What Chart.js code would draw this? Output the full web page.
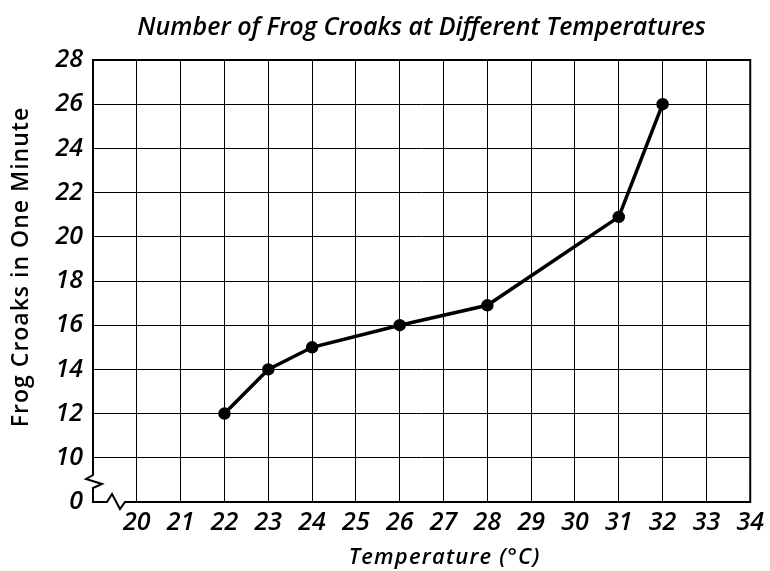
<!DOCTYPE html>
<html>
<head>
<meta charset="utf-8">
<script src="https://cdn.jsdelivr.net/npm/chart.js@4.4.1/dist/chart.umd.min.js"></script>
<style>
  body { margin: 0; background: #fff; }
</style>
</head>
<body>
<canvas id="myChart" width="770" height="571"></canvas>
<script>
// data
const temperatures = [22, 23, 24, 26, 28, 31, 32];
const croaks = [12, 14, 15, 16, 16.9, 20.9, 26];

// axes: the bottom of the y scale is a broken axis shown as "0"
const xMin = 19, xMax = 34;
const yMin = 8, yMax = 28;
const yBreakLabel = '0';

const xTitle = 'Temperature (°C)';
const yTitle = 'Frog Croaks in One Minute';

const FONT = '"Open Sans", "DejaVu Sans", sans-serif';

// outer frame with zigzag breaks at the bottom left corner, plus axis titles
const frame = {
  id: 'frame',
  beforeDatasetsDraw(chart) {
    const { ctx, chartArea: a } = chart;
    const L = a.left, R = a.right, T = a.top, B = a.bottom;
    ctx.save();
    ctx.strokeStyle = '#000';
    ctx.lineWidth = 2;
    ctx.beginPath();
    ctx.moveTo(L, T);
    ctx.lineTo(L, B - 27);
    ctx.lineTo(L - 7, B - 23);
    ctx.lineTo(L + 9, B - 18);
    ctx.lineTo(L, B - 14);
    ctx.lineTo(L, B);
    ctx.lineTo(L + 14, B);
    ctx.lineTo(L + 19, B - 8);
    ctx.lineTo(L + 27, B + 7);
    ctx.lineTo(L + 32, B);
    ctx.lineTo(R, B);
    ctx.lineTo(R, T);
    ctx.closePath();
    ctx.stroke();
    ctx.restore();
  },
  afterDraw(chart) {
    const { ctx, chartArea: a } = chart;
    ctx.save();
    ctx.fillStyle = '#000';
    ctx.textAlign = 'center';
    ctx.textBaseline = 'alphabetic';

    ctx.font = 'italic 600 22px ' + FONT;
    ctx.letterSpacing = '1.2px';
    ctx.fillText(xTitle, (a.left + a.right) / 2 + 23, chart.height - 7);

    ctx.font = '600 23px ' + FONT;
    ctx.letterSpacing = '1px';
    ctx.translate(28, (a.top + a.bottom) / 2 - 14);
    ctx.rotate(-Math.PI / 2);
    ctx.fillText(yTitle, 0, 0);
    ctx.restore();
  }
};

const ctx = document.getElementById('myChart').getContext('2d');
new Chart(ctx, {
  type: 'scatter',
  data: {
    datasets: [{
      data: temperatures.map((t, i) => ({ x: t, y: croaks[i] })),
      showLine: true,
      borderColor: '#000',
      backgroundColor: '#000',
      borderWidth: 3.5,
      pointRadius: 4.5,
      pointHoverRadius: 4.5,
      tension: 0
    }]
  },
  options: {
    responsive: false,
    animation: false,
    layout: { padding: { left: 0, right: 14, top: 0, bottom: 0 } },
    plugins: {
      legend: { display: false },
      tooltip: { enabled: false },
      title: {
        display: true,
        fullSize: false,
        text: 'Number of Frog Croaks at Different Temperatures',
        color: '#000',
        font: { family: FONT, size: 25, style: 'italic', weight: '600' },
        padding: { top: 13, bottom: 17 }
      }
    },
    scales: {
      x: {
        type: 'linear',
        min: xMin,
        max: xMax,
        offset: false,
        afterFit: (scale) => { scale.height = 69; },
        border: { display: false },
        grid: {
          drawTicks: false,
          lineWidth: 1,
          color: (c) => (c.tick && (c.tick.value === xMin || c.tick.value === xMax)) ? 'rgba(0,0,0,0)' : '#000'
        },
        ticks: {
          stepSize: 1,
          maxRotation: 0,
          autoSkip: false,
          padding: 6,
          color: '#000',
          font: { family: FONT, size: 25, style: 'italic', weight: '600' },
          callback: (v) => v === xMin ? '' : v
        }
      },
      y: {
        type: 'linear',
        min: yMin,
        max: yMax,
        afterFit: (scale) => { scale.width = 93; },
        border: { display: false },
        grid: {
          drawTicks: false,
          lineWidth: 1,
          color: (c) => (c.tick && (c.tick.value === yMin || c.tick.value === yMax)) ? 'rgba(0,0,0,0)' : '#000'
        },
        ticks: {
          stepSize: 2,
          autoSkip: false,
          padding: 10,
          color: '#000',
          font: { family: FONT, size: 25, style: 'italic', weight: '600' },
          callback: (v) => v === yMin ? yBreakLabel : v
        }
      }
    }
  },
  plugins: [frame]
});
</script>
</body>
</html>
